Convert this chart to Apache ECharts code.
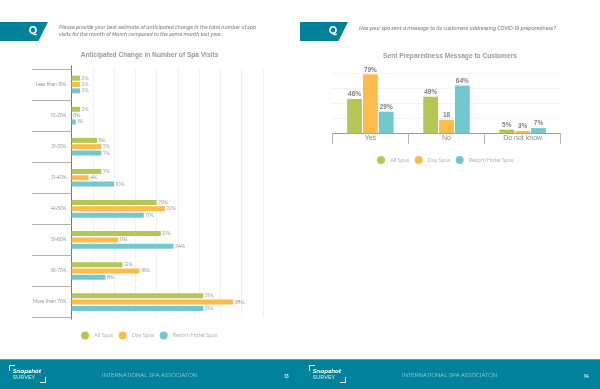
<!DOCTYPE html>
<html><head><meta charset="utf-8">
<style>html,body{margin:0;padding:0;background:#fff}#c{width:600px;height:389px}</style>
<script src="https://cdn.jsdelivr.net/npm/echarts@6/dist/echarts.min.js"></script></head>
<body><div id="c"></div>
<script>
const visitCategories=["Less than 10%","10-20%","21-30%","31-40%","41-50%","51-60%","61-70%","More than 70%"];
const visitAll=[2,2,6,7,20,21,12,31];
const visitDay=[2,0,7,4,22,11,16,38];
const visitResort=[2,1,7,10,17,24,8,31];
const msgCategories=["Yes","No","Do not know"];
const msgAll=[46,49,5];
const msgDay=[79,18,3];
const msgResort=[29,64,7];
const msgDayLabels=["79%","18","3%"];
const seriesNames=["All Spas","Day Spas","Resort/Hotel Spas"];
const colors=["#b4c655","#fdbb4b","#72c8cf"];
const FONT='"Montserrat","Lato","Open Sans",sans-serif';
const SANS='"Liberation Sans",Arial,sans-serif';
const TEAL="#01829a";

function hBar(name,data,color){return{name,type:"bar",xAxisIndex:0,yAxisIndex:0,data,barWidth:5,barGap:"27%",
  itemStyle:{color},label:{show:true,position:"right",distance:1.5,formatter:"{c}%",fontSize:5,color:"#808080",fontFamily:FONT}}}
function vBar(name,data,color,labels){return{name,type:"bar",xAxisIndex:1,yAxisIndex:1,data,barWidth:14.8,barGap:"7%",
  itemStyle:{color},label:{show:true,position:"top",distance:1,formatter:p=>labels?labels[p.dataIndex]:p.value+"%",fontSize:6.5,fontWeight:"bold",color:"#808080",fontFamily:SANS}}}
const legendBase={data:seriesNames,icon:"circle",itemWidth:8,itemHeight:8,itemGap:5.5,padding:0,selectedMode:false,
  textStyle:{fontSize:5.6,color:"#b5b5b5",fontFamily:'Lato,"Open Sans",sans-serif'}};
function txt(x,y,text,fontSize,fill,extra){return{type:"text",silent:true,x,y,style:Object.assign({text,fontSize,fill,fontFamily:FONT,verticalAlign:"middle"},extra||{})}}
function tab(x){return{type:"polygon",silent:true,shape:{points:[[x,22],[x+48,22],[x+38.5,41],[x,41]]},style:{fill:TEAL}}}
function logo(x){return[
  {type:"polyline",silent:true,shape:{points:[[x+9.5,111],[x+9.5,105.5],[x+15,105.5]]},style:{stroke:"#fff",lineWidth:1,fill:null},y:260},
  {type:"polyline",silent:true,shape:{points:[[x+40,122.5],[x+45.5,122.5],[x+45.5,117]]},style:{stroke:"#fff",lineWidth:1,fill:null},y:260},
  txt(x+12.7,371,"Snapshot",5.7,"#fff",{fontWeight:"bold",fontStyle:"italic"}),
  txt(x+12.7,377.5,"SURVEY",5.4,"#d8eef2",{fontWeight:500})
]}
const titleStyle={fontSize:6.6,fontWeight:"bold",color:"#9a9a9a",fontFamily:SANS};
const chart=echarts.init(document.getElementById("c"),null,{renderer:"canvas"});
chart.setOption({
  animation:false,
  color:colors,
  title:[
    {text:"Anticipated Change in Number of Spa Visits",left:149.5,top:52,padding:0,textAlign:"center",textStyle:titleStyle},
    {text:"Sent Preparedness Message to Customers",left:450,top:53,padding:0,textAlign:"center",textStyle:titleStyle}
  ],
  legend:[
    Object.assign({},legendBase,{left:81,top:331.5}),
    Object.assign({},legendBase,{left:377,top:156})
  ],
  grid:[
    {left:71.5,top:69,width:191.25,height:248.6,containLabel:false},
    {left:332.3,top:73.6,width:228.4,height:59.7,containLabel:false}
  ],
  xAxis:[
    {type:"value",gridIndex:0,min:0,max:45,interval:5,axisLabel:{show:false},axisLine:{show:false},axisTick:{show:false},splitLine:{lineStyle:{color:"#f0f0f0",width:1}}},
    {type:"category",gridIndex:1,data:msgCategories,axisLine:{lineStyle:{color:"#9a9a9a",width:1}},axisTick:{show:true,alignWithLabel:false,length:10.7,lineStyle:{color:"#b5b5b5",width:1}},
     axisLabel:{fontSize:7,color:"#888",margin:1.5,fontFamily:SANS}}
  ],
  yAxis:[
    {type:"category",gridIndex:0,inverse:true,data:visitCategories,axisLine:{lineStyle:{color:"#777",width:1}},axisTick:{show:true,alignWithLabel:false,length:39.5,lineStyle:{color:"#b0b0b0",width:1}},
     axisLabel:{fontSize:4.5,color:"#777",margin:5,fontFamily:FONT}},
    {type:"value",gridIndex:1,min:0,max:80,interval:20,axisLabel:{show:false},axisLine:{show:false},axisTick:{show:false},splitLine:{lineStyle:{color:"#f3f3f3",width:1}}}
  ],
  series:[
    hBar(seriesNames[0],visitAll,colors[0]),hBar(seriesNames[1],visitDay,colors[1]),hBar(seriesNames[2],visitResort,colors[2]),
    vBar(seriesNames[0],msgAll,colors[0]),vBar(seriesNames[1],msgDay,colors[1],msgDayLabels),vBar(seriesNames[2],msgResort,colors[2])
  ],
  graphic:{elements:[
    tab(0),tab(300),
    txt(33,31.5,"Q",10,"#fff",{fontWeight:"bold",textAlign:"center"}),
    txt(333,31.5,"Q",10,"#fff",{fontWeight:"bold",textAlign:"center"}),
    txt(59,28,"Please provide your best estimate of anticipated change in the total number of spa",4.55,"#8c8c8c",{fontStyle:"italic",fontWeight:600}),
    txt(59,34.5,"visits for the month of March compared to the same month last year.",4.55,"#8c8c8c",{fontStyle:"italic",fontWeight:600}),
    txt(359,28.5,"Has your spa sent a message to its customers addressing COVID-19 preparedness?",4.6,"#8c8c8c",{fontStyle:"italic",fontWeight:600}),
    {type:"rect",silent:true,shape:{x:71,y:65.5,width:1,height:254},style:{fill:"#777"}},
    {type:"rect",silent:true,shape:{x:0,y:359,width:600,height:30},style:{fill:TEAL}},
    {type:"rect",silent:true,shape:{x:0,y:359,width:600,height:1},style:{fill:"#4a9fb0"}},
    txt(102,375,"INTERNATIONAL SPA ASSOCIATON",5.4,"#9fd3dd"),
    txt(402,375,"INTERNATIONAL SPA ASSOCIATON",5.4,"#9fd3dd"),
    txt(286.5,377,"13",4.5,"#cfe9ee",{fontWeight:"bold",textAlign:"center"}),
    txt(586.5,377,"14",4.5,"#cfe9ee",{fontWeight:"bold",textAlign:"center"}),
    ...logo(0),...logo(300)
  ]}
});
</script></body></html>
